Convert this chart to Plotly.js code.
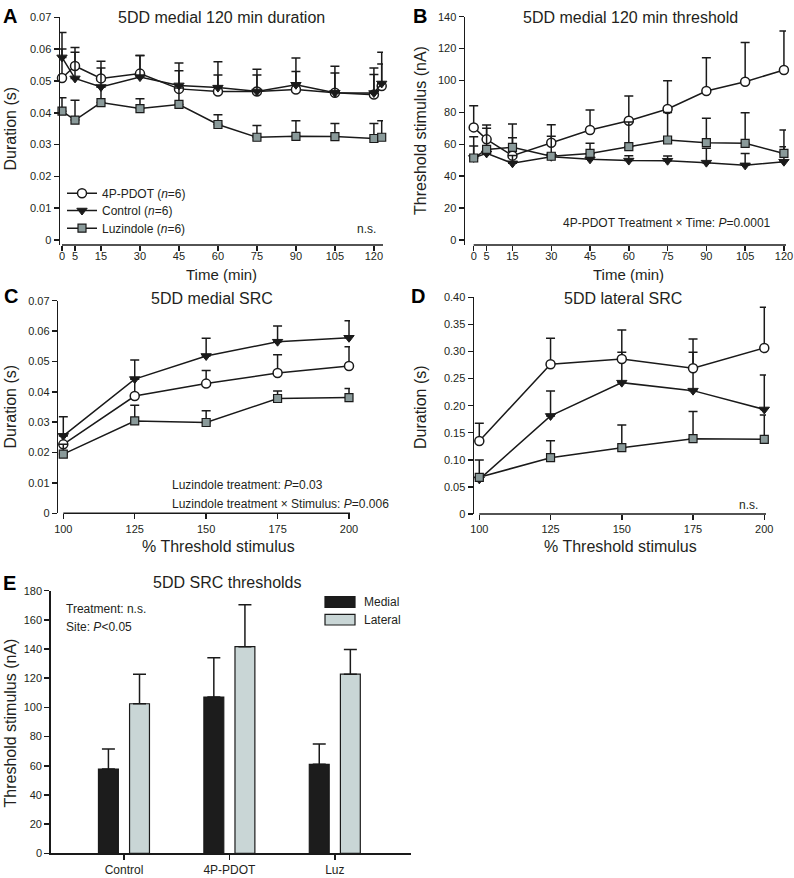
<!DOCTYPE html>
<html>
<head>
<meta charset="utf-8">
<script src="https://cdn.plot.ly/plotly-3.0.1.min.js"></script>
<style>html,body{margin:0;padding:0;background:#fff;}#chart{width:794px;height:878px;}</style>
</head>
<body>
<div id="chart"></div>
<script>
// ---------------- DATA ----------------
// Panel A: 5DD medial 120 min duration (s)
var timeA = [0, 5, 15, 30, 45, 60, 75, 90, 105, 120, 123];
var aPdot = [0.0509, 0.0547, 0.0508, 0.0523, 0.0475, 0.0467, 0.0467, 0.0473, 0.0463, 0.0457, 0.0484];
var aPdotErr = [0.0091, 0.0058, 0.0054, 0.0057, 0.0081, 0.0093, 0.0070, 0.0099, 0.0083, 0.0084, 0.0106];
var aCtrl = [0.0574, 0.0508, 0.0481, 0.0512, 0.0486, 0.0479, 0.0467, 0.0488, 0.0463, 0.0462, 0.0492];
var aCtrlErr = [0.0078, 0.0082, 0.0060, 0.0068, 0.0046, 0.0040, 0.0052, 0.0042, 0.0062, 0.0058, 0.0061];
var aLuz = [0.0405, 0.0377, 0.0432, 0.0413, 0.0426, 0.0363, 0.0323, 0.0326, 0.0325, 0.0319, 0.0323];
var aLuzErr = [0.0042, 0.0062, 0.0049, 0.0031, 0.0052, 0.0031, 0.0037, 0.0049, 0.0041, 0.0047, 0.0052];

// Panel B: 5DD medial 120 min threshold (nA)
var timeB = [0, 5, 15, 30, 45, 60, 75, 90, 105, 120];
var bPdot = [70.6, 63.1, 52.9, 61.0, 69.0, 74.8, 82.1, 93.4, 99.2, 106.6];
var bPdotErr = [13.6, 9.0, 11.2, 11.3, 12.5, 15.5, 17.8, 20.9, 24.7, 24.4];
var bCtrl = [51.5, 54.3, 48.1, 52.2, 50.6, 49.8, 49.7, 48.5, 46.8, 49.1];
var bCtrlErr = [7.5, 2.7, 4.9, 2.0, 3.5, 3.0, 3.0, 9.0, 7.5, 9.4];
var bLuz = [51.4, 56.8, 58.1, 52.5, 54.3, 58.5, 62.7, 61.0, 60.6, 54.3];
var bLuzErr = [13.4, 13.2, 14.6, 12.5, 6.3, 15.5, 17.3, 15.3, 19.2, 14.6];
var timeTicks = [0, 5, 15, 30, 45, 60, 75, 90, 105, 120];

// Panels C and D: % threshold stimulus
var stim = [100, 125, 150, 175, 200];
var cCtrl = [0.0255, 0.0442, 0.0518, 0.0565, 0.0578];
var cCtrlErr = [0.0063, 0.0063, 0.0058, 0.0052, 0.0056];
var cPdot = [0.0227, 0.0386, 0.0427, 0.0462, 0.0485];
var cPdotErr = [0.0028, 0.0056, 0.0043, 0.0060, 0.0063];
var cLuz = [0.0195, 0.0304, 0.0299, 0.0378, 0.0381];
var cLuzErr = [0.0032, 0.0052, 0.0039, 0.0025, 0.0030];

var dPdot = [0.1348, 0.2763, 0.2862, 0.2689, 0.3065];
var dPdotErr = [0.0326, 0.0480, 0.0535, 0.0541, 0.0750];
var dCtrl = [0.0640, 0.1810, 0.2425, 0.2277, 0.1930];
var dCtrlErr = [0.0040, 0.0460, 0.0560, 0.0708, 0.0636];
var dLuz = [0.0677, 0.1040, 0.1225, 0.1390, 0.1378];
var dLuzErr = [0.0320, 0.0314, 0.0418, 0.0500, 0.0450];

// Panel E: SRC thresholds (nA)
var groupsE = ['Control', '4P-PDOT', 'Luz'];
var eMedial = [57.8, 107.1, 61.0];
var eMedialErr = [13.7, 26.9, 13.9];
var eLateral = [102.5, 141.6, 122.8];
var eLateralErr = [20.3, 28.7, 16.9];

// tick labels
var ticksA = [0, 0.01, 0.02, 0.03, 0.04, 0.05, 0.06, 0.07];
var ticksAText = ['0', '0.01', '0.02', '0.03', '0.04', '0.05', '0.06', '0.07'];
var ticksB = [0, 20, 40, 60, 80, 100, 120, 140];
var ticksD = [0, 0.05, 0.10, 0.15, 0.20, 0.25, 0.30, 0.35, 0.40];
var ticksDText = ['0', '0.05', '0.10', '0.15', '0.20', '0.25', '0.30', '0.35', '0.40'];
var ticksE = [0, 20, 40, 60, 80, 100, 120, 140, 160, 180];

// ---------------- STYLE ----------------
var W = 794, H = 878;
function fx(p) { return p / W; }
function fy(p) { return 1 - p / H; }
var FONT = 'Liberation Sans, Arial, Helvetica, sans-serif';
var INK = '#1a1a1a';
var TXT = '#231f20';
var LUZ = '#8a9a9a';

var styles = {
  pdot: {symbol: 'circle', size: 9, color: '#ffffff', line: {color: INK, width: 1.5}},
  ctrl: {symbol: 'triangle-down', size: 9, color: INK, line: {color: INK, width: 1}},
  luz: {symbol: 'square', size: 8, color: LUZ, line: {color: INK, width: 1.2}}
};

function series(x, y, err, key, xa, ya, name, legendId) {
  return {
    type: 'scatter', mode: 'lines+markers', x: x, y: y, xaxis: xa, yaxis: ya,
    name: name, showlegend: !!legendId, legend: legendId || 'legend', cliponaxis: false,
    line: {color: INK, width: 1.5},
    marker: styles[key],
    error_y: {type: 'data', symmetric: false, array: err, arrayminus: err.map(function () { return 0; }),
      color: INK, thickness: 1.5, width: 4.5},
    hoverinfo: 'x+y'
  };
}

var data = [
  series(timeA, aPdot, aPdotErr, 'pdot', 'x', 'y', '4P-PDOT (<i>n</i>=6)', 'legend'),
  series(timeA, aCtrl, aCtrlErr, 'ctrl', 'x', 'y', 'Control (<i>n</i>=6)', 'legend2'),
  series(timeA, aLuz, aLuzErr, 'luz', 'x', 'y', 'Luzindole (<i>n</i>=6)', 'legend3'),
  series(timeB, bPdot, bPdotErr, 'pdot', 'x2', 'y2', '4P-PDOT'),
  series(timeB, bCtrl, bCtrlErr, 'ctrl', 'x2', 'y2', 'Control'),
  series(timeB, bLuz, bLuzErr, 'luz', 'x2', 'y2', 'Luzindole'),
  series(stim, cCtrl, cCtrlErr, 'ctrl', 'x3', 'y3', 'Control'),
  series(stim, cPdot, cPdotErr, 'pdot', 'x3', 'y3', '4P-PDOT'),
  series(stim, cLuz, cLuzErr, 'luz', 'x3', 'y3', 'Luzindole'),
  series(stim, dCtrl, dCtrlErr, 'ctrl', 'x4', 'y4', 'Control'),
  series(stim, dPdot, dPdotErr, 'pdot', 'x4', 'y4', '4P-PDOT'),
  series(stim, dLuz, dLuzErr, 'luz', 'x4', 'y4', 'Luzindole'),
  {type: 'bar', x: groupsE, y: eMedial, name: 'Medial', xaxis: 'x5', yaxis: 'y5', showlegend: false,
    marker: {color: '#1c1c1c', line: {color: INK, width: 1.2}},
    error_y: {type: 'data', symmetric: false, array: eMedialErr, arrayminus: eMedial.map(function () { return 0; }),
      color: INK, thickness: 1.5, width: 6.5}},
  {type: 'bar', x: groupsE, y: eLateral, name: 'Lateral', xaxis: 'x5', yaxis: 'y5', showlegend: false,
    marker: {color: '#c9d6d6', line: {color: INK, width: 1.2}},
    error_y: {type: 'data', symmetric: false, array: eLateralErr, arrayminus: eLateral.map(function () { return 0; }),
      color: INK, thickness: 1.5, width: 6.5}}
];

function xAxis(domainPx, range, opts) {
  var a = {domain: [fx(domainPx[0]), fx(domainPx[1])], range: range, showgrid: false, zeroline: false,
    showline: false, ticks: 'outside', ticklen: 5, tickwidth: 1.5, tickcolor: INK,
    tickfont: {family: FONT, size: 11, color: TXT}, fixedrange: true};
  for (var k in opts) a[k] = opts[k];
  return a;
}
function yAxis(domainPx, range, opts) {
  var a = {domain: [fy(domainPx[1]), fy(domainPx[0])], range: range, showgrid: false, zeroline: false,
    showline: true, linecolor: INK, linewidth: 1.5, ticks: 'outside', ticklen: 5, tickwidth: 1.5, tickcolor: INK,
    tickfont: {family: FONT, size: 11, color: TXT}, fixedrange: true};
  for (var k in opts) a[k] = opts[k];
  return a;
}

var rangeA = [-0.77, 123.5], rangeB = [-3.36, 120.8], rangeC = [98.25, 200.35], rangeD = [98.14, 200.6], rangeE = [-0.695, 2.72];

function legendAt(yPx) {
  return {x: fx(62), y: fy(yPx - 14), xanchor: 'left', yanchor: 'top', bgcolor: 'rgba(0,0,0,0)',
    font: {family: FONT, size: 12, color: TXT}, tracegroupgap: 0, itemwidth: 30};
}

var layout = {
  width: W, height: H, margin: {l: 0, r: 0, t: 0, b: 0},
  paper_bgcolor: '#ffffff', plot_bgcolor: 'rgba(0,0,0,0)',
  font: {family: FONT, color: TXT, size: 12},
  barmode: 'group', bargap: 0.41, bargroupgap: 0.36,
  showlegend: true,
  legend: legendAt(192.7),
  legend2: legendAt(210),
  legend3: legendAt(227.7),
  xaxis: xAxis([60, 383], rangeA, {anchor: 'y', tickvals: timeTicks, ticklabelstandoff: -4}),
  yaxis: yAxis([17.3, 245], [-0.00157, 0.07], {anchor: 'x', tickvals: ticksA, ticktext: ticksAText}),
  xaxis2: xAxis([465, 786], rangeB, {anchor: 'y2', tickvals: timeTicks, ticklabelstandoff: -4}),
  yaxis2: yAxis([16.7, 245], [-3.13, 140], {anchor: 'x2', tickvals: ticksB}),
  xaxis3: xAxis([58.3, 350], rangeC, {anchor: 'y3', tickvals: stim}),
  yaxis3: yAxis([300.7, 513.3], [0, 0.07], {anchor: 'x3', tickvals: ticksA, ticktext: ticksAText}),
  xaxis4: xAxis([474, 766], rangeD, {anchor: 'y4', tickvals: stim}),
  yaxis4: yAxis([297.3, 514], [0, 0.40], {anchor: 'x4', tickvals: ticksD, ticktext: ticksDText}),
  xaxis5: xAxis([50.7, 410.7], rangeE, {anchor: 'y5', type: 'category', showline: true, linecolor: INK, linewidth: 1.5,
    tickfont: {family: FONT, size: 12, color: TXT}}),
  yaxis5: yAxis([590.7, 853.3], [0, 180], {anchor: 'x5', tickvals: ticksE}),
  shapes: [],
  annotations: []
};

// x-axis lines starting at first data value (Prism-style offset axes)
function xLine(xa, ya, x0, x1) {
  return {type: 'line', xref: xa, yref: ya + ' domain', x0: x0, x1: x1, y0: 0, y1: 0, line: {color: INK, width: 1.5}};
}
layout.shapes.push(xLine('x', 'y', timeA[0], rangeA[1]));
layout.shapes.push(xLine('x2', 'y2', timeB[0], rangeB[1]));
layout.shapes.push(xLine('x3', 'y3', stim[0], rangeC[1]));
layout.shapes.push(xLine('x4', 'y4', stim[0], rangeD[1]));

// legend swatches for panel E
layout.shapes.push({type: 'rect', xref: 'paper', yref: 'paper', x0: fx(325), x1: fx(355), y0: fy(607.3), y1: fy(596.7),
  fillcolor: '#1c1c1c', line: {color: INK, width: 1.2}});
layout.shapes.push({type: 'rect', xref: 'paper', yref: 'paper', x0: fx(325), x1: fx(355), y0: fy(625), y1: fy(614.3),
  fillcolor: '#c9d6d6', line: {color: INK, width: 1.2}});

function ann(text, x, y, opts) {
  var a = {text: text, xref: 'paper', yref: 'paper', x: fx(x), y: fy(y), showarrow: false,
    xanchor: 'center', yanchor: 'middle', font: {family: FONT, size: 12, color: TXT}};
  for (var k in opts) a[k] = opts[k];
  return a;
}
var bold = {family: FONT, size: 20, color: '#000000', weight: 'bold'};
var titleFont = {family: FONT, size: 16, color: TXT};
var timeFont = {family: FONT, size: 15, color: TXT};
layout.annotations.push(
  ann('<b>A</b>', 1, 16, {xanchor: 'left', font: bold}),
  ann('<b>B</b>', 411, 16, {xanchor: 'left', font: bold}),
  ann('<b>C</b>', 2, 296, {xanchor: 'left', font: bold}),
  ann('<b>D</b>', 409, 296, {xanchor: 'left', font: bold}),
  ann('<b>E</b>', 1, 583, {xanchor: 'left', font: bold}),
  ann('5DD medial 120 min duration', 221.7, 17, {font: titleFont}),
  ann('5DD medial 120 min threshold', 630, 17, {font: titleFont}),
  ann('5DD medial SRC', 211.7, 298, {font: titleFont}),
  ann('5DD lateral SRC', 622.5, 298, {font: titleFont}),
  ann('5DD SRC thresholds', 227.5, 582.5, {font: titleFont}),
  ann('Duration (s)', 9.5, 129, {textangle: -90, font: titleFont}),
  ann('Threshold stimulus (nA)', 421, 130, {textangle: -90, font: titleFont}),
  ann('Duration (s)', 9.5, 407, {textangle: -90, font: titleFont}),
  ann('Duration (s)', 420, 407, {textangle: -90, font: titleFont}),
  ann('Threshold stimulus (nA)', 9.5, 723, {textangle: -90, font: titleFont}),
  ann('Time (min)', 221, 274, {font: timeFont}),
  ann('Time (min)', 628, 274, {font: timeFont}),
  ann('% Threshold stimulus', 219, 546.7, {font: titleFont}),
  ann('% Threshold stimulus', 620.8, 546.7, {font: titleFont}),
  ann('n.s.', 378, 229, {xanchor: 'right'}),
  ann('4P-PDOT Treatment × Time: <i>P</i>=0.0001', 773.3, 222.7, {xanchor: 'right'}),
  ann('Luzindole treatment: <i>P</i>=0.03', 170, 485, {xanchor: 'left'}),
  ann('Luzindole treatment × Stimulus: <i>P</i>=0.006', 170, 504, {xanchor: 'left'}),
  ann('n.s.', 760, 505, {xanchor: 'right'}),
  ann('Treatment: n.s.', 64, 609, {xanchor: 'left'}),
  ann('Site: <i>P</i>&lt;0.05', 64, 626.7, {xanchor: 'left'}),
  ann('Medial', 361.7, 602, {xanchor: 'left'}),
  ann('Lateral', 361.7, 620, {xanchor: 'left'})
);

Plotly.newPlot('chart', data, layout, {displayModeBar: false, staticPlot: true});
</script>
</body>
</html>
